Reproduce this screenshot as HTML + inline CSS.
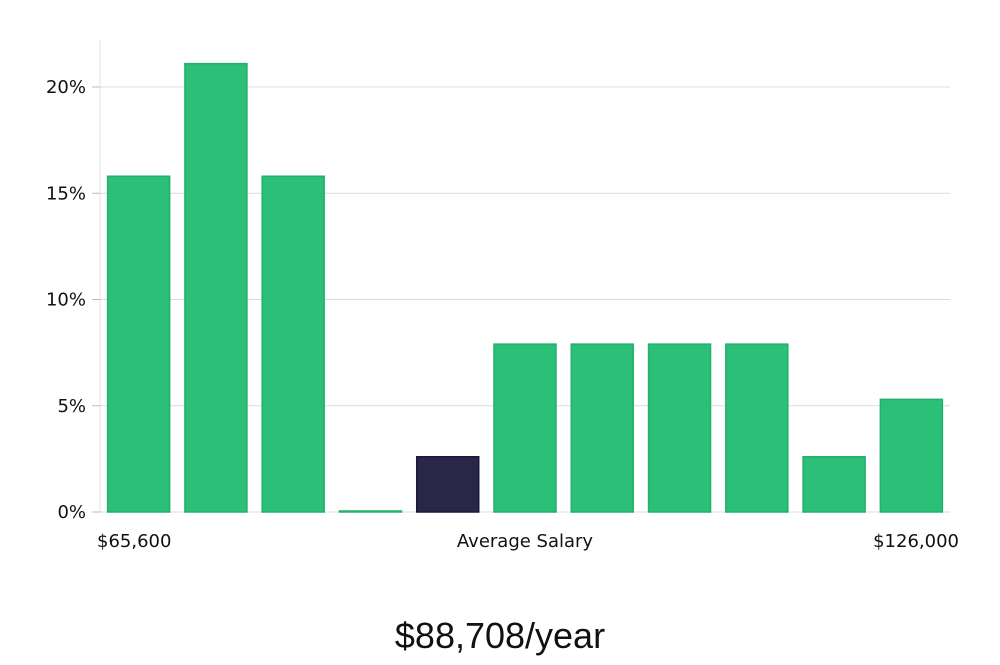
<!DOCTYPE html>
<html><head><meta charset="utf-8"><style>
body{margin:0;background:#fff;width:1000px;height:660px;overflow:hidden}
svg text{font-family:"DejaVu Sans","Liberation Sans",sans-serif;fill:#111}
</style></head><body>
<svg id="chart" width="1000" height="660" viewBox="0 0 1000 660">
<g id="grid"></g><g id="bars"></g><g id="labels"></g>
<text x="97" y="547" font-size="18">$65,600</text>
<text x="525" y="547" font-size="18" text-anchor="middle">Average Salary</text>
<text x="959" y="547" font-size="18" text-anchor="end">$126,000</text>
<text x="500" y="648" font-size="36" text-anchor="middle" style="font-family:'Liberation Sans',sans-serif;font-weight:300">$88,708/year</text>
</svg>
<script>
const values=[15.8,21.1,15.8,0,2.6,7.9,7.9,7.9,7.9,2.6,5.3];
const highlight=[false,false,false,false,true,false,false,false,false,false,false];
const ticks=[0,5,10,15,20];
const tickLabels=["0%","5%","10%","15%","20%"];
const NS="http://www.w3.org/2000/svg";
const x0=100,x1=950,yBase=512,yTop20=87;
const y=v=>yBase-(v/20)*(yBase-yTop20);
const slot=(x1-x0)/values.length;
const xc=i=>x0+slot*(i+0.5);
const grid=document.getElementById('grid'),bars=document.getElementById('bars'),labels=document.getElementById('labels');
function mk(t,a,p){const e=document.createElementNS(NS,t);for(const k in a)e.setAttribute(k,a[k]);p.appendChild(e);return e;}
const ax=mk('line',{x1:x0,x2:x0,y1:40,y2:yBase,stroke:'#e0e0e0','stroke-width':1},grid);


ticks.forEach((t,i)=>{
  const l=mk('line',{x1:x0,x2:x1,y1:y(t),y2:y(t),stroke:'#dcdcdc','stroke-width':1},grid);
  
  
  const tk=mk('line',{x1:x0-8,x2:x0,y1:y(t),y2:y(t),stroke:'#bbb','stroke-width':1},grid);
  
  
  const tx=mk('text',{x:x0-14,y:y(t)+6,'font-size':18,'text-anchor':'end'},labels);
  tx.textContent=tickLabels[i];
  
  
});
const bw=62;
values.forEach((v,i)=>{
  const h=Math.max(yBase-y(v),1);
  const r=mk('rect',{x:xc(i)-bw/2,y:yBase-h,width:bw,height:h,
    fill:highlight[i]?'#2a2648':'#2bbf77',stroke:highlight[i]?'#1a1838':'#22b06c','stroke-width':1.5},bars);
  
  
});
</script>
</body></html>
